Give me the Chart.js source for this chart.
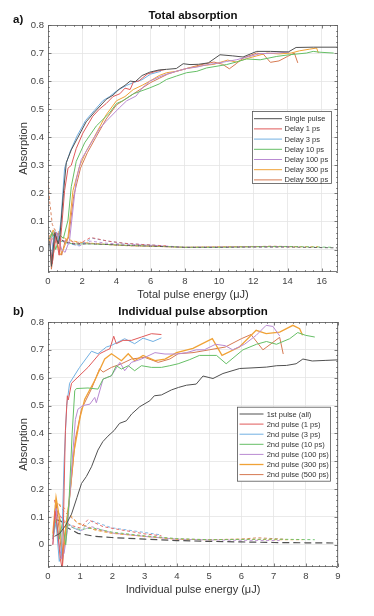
<!DOCTYPE html>
<html><head><meta charset="utf-8">
<script src="https://cdn.jsdelivr.net/npm/chart.js@4/dist/chart.umd.min.js"></script>
<style>
html,body{margin:0;padding:0;background:#fff;width:374px;height:616px;overflow:hidden}
#ca{position:absolute;left:0;top:0}
#cb{position:absolute;left:0;top:300px}
</style></head><body>
<canvas id="ca" width="374" height="300"></canvas>
<canvas id="cb" width="374" height="316"></canvas>
<script>
// ---------- DATA: (a) Total absorption, x = total pulse energy (uJ) ----------
const topLabels = ['Single pulse','Delay 1 ps','Delay 3 ps','Delay 10 ps','Delay 100 ps','Delay 300 ps','Delay 500 ps'];
const topXTicks = [0,2,4,6,8,10,12,14,16];
const topYTicks = [0,0.1,0.2,0.3,0.4,0.5,0.6,0.7,0.8];

const topSingle = [[0.1,0.03],[0.2,-0.06],[0.4,0.06],[0.6,0.02],[0.7,0.05],[0.9,0.2],[1.07,0.31],[1.36,0.355],[1.75,0.4],[2.23,0.455],[2.72,0.49],[3.4,0.535],[3.8,0.55],[4.17,0.572],[4.5,0.585],[4.8,0.6],[5.1,0.598],[5.5,0.62],[5.95,0.632],[6.5,0.64],[6.93,0.642],[7.5,0.645],[7.9,0.662],[8.3,0.659],[8.8,0.66],[9.37,0.665],[10.05,0.694],[10.8,0.69],[11.4,0.686],[12.2,0.706],[13.0,0.706],[14.05,0.704],[14.5,0.72],[15.5,0.721],[16.9,0.721]];
const topSingleDash = [[0.1,0.07],[0.3,0.05],[0.6,0.045],[0.9,0.03],[1.5,0.02],[2.5,0.02],[3.5,0.018],[5,0.014],[6,0.012],[8,0.008],[10,0.008],[12,0.009],[14,0.009],[16.9,0.006]];
const topD1 = [[0.15,0.0],[0.25,-0.05],[0.45,0.05],[0.65,-0.02],[0.8,0.08],[0.97,0.21],[1.17,0.29],[1.36,0.3],[1.65,0.36],[2.04,0.415],[2.62,0.475],[3.0,0.5],[3.4,0.52],[3.8,0.545],[4.2,0.555],[4.5,0.575],[4.8,0.57],[5.0,0.598],[5.3,0.6],[5.8,0.625],[6.3,0.635],[6.9,0.642]];
const topD1Dash = [[0.2,0.03],[0.4,0.065],[0.6,0.04],[0.9,0.03],[1.2,0.025],[1.8,0.02],[2.5,0.043],[3.5,0.03],[4.5,0.022],[5.5,0.018],[6.9,0.013]];
const topD3 = [[0.1,0.02],[0.2,-0.03],[0.35,0.05],[0.6,0.03],[0.75,0.1],[0.97,0.29],[1.3,0.35],[1.7,0.405],[2.2,0.46],[2.7,0.495],[3.2,0.53],[3.6,0.545],[4.0,0.565],[4.6,0.585],[5.0,0.595],[5.5,0.605],[6.0,0.625],[6.6,0.635]];
const topD3Dash = [[0.2,0.04],[0.4,0.07],[0.6,0.05],[0.8,0.03],[1.2,0.02],[1.8,0.015],[2.6,0.04],[3.5,0.03],[4.5,0.022],[5.5,0.018],[6.6,0.014]];
const topD10 = [[0.1,0.04],[0.25,0.06],[0.45,0.0],[0.7,0.05],[0.9,0.04],[1.17,0.105],[1.36,0.224],[1.65,0.314],[2.14,0.38],[2.82,0.44],[3.6,0.487],[4.0,0.52],[4.37,0.53],[5.0,0.555],[5.95,0.576],[6.5,0.59],[6.93,0.606],[7.5,0.618],[8.1,0.63],[8.7,0.635],[9.27,0.647],[10.44,0.659],[11.0,0.668],[11.6,0.679],[12.4,0.676],[13.37,0.688],[14.1,0.694],[15.1,0.7],[15.5,0.706],[15.9,0.703],[16.7,0.7]];
const topD10Dash = [[0.2,0.06],[0.4,0.05],[0.7,0.03],[1.0,0.025],[1.5,0.02],[2.5,0.02],[3.5,0.018],[5,0.014],[6.5,0.012],[8,0.008],[10,0.008],[12,0.01],[14,0.011],[16.7,0.008]];
const topD100 = [[0.15,0.05],[0.3,0.0],[0.5,0.06],[0.8,0.0],[1.0,-0.01],[1.26,0.033],[1.65,0.248],[1.94,0.32],[2.33,0.36],[2.62,0.39],[3.0,0.43],[3.4,0.457],[4.17,0.505],[4.6,0.53],[5.15,0.547],[5.5,0.575],[5.95,0.6],[6.5,0.615],[6.93,0.625],[7.5,0.635],[8.1,0.645],[8.7,0.65],[9.27,0.658],[10.0,0.665],[10.44,0.67],[11.0,0.676],[11.6,0.685],[12.4,0.698],[13.37,0.7],[14.1,0.704]];
const topD100Dash = [[0.3,0.02],[0.5,0.06],[0.8,0.035],[1.2,0.025],[1.8,0.012],[2.5,0.03],[3.5,0.022],[5,0.018],[6.5,0.014],[8,0.008],[10,0.009],[12,0.01],[14.1,0.01]];
const topD300 = [[0.1,0.03],[0.3,0.07],[0.5,0.04],[0.7,-0.02],[0.9,0.0],[1.17,0.045],[1.46,0.21],[1.84,0.296],[2.23,0.35],[2.72,0.403],[3.4,0.48],[4.0,0.53],[4.5,0.545],[4.98,0.57],[5.5,0.585],[5.95,0.6],[6.5,0.62],[6.93,0.63],[7.5,0.635],[8.1,0.645],[9.0,0.655],[9.7,0.66],[10.5,0.675],[11.0,0.668],[11.6,0.68],[12.2,0.69],[12.8,0.7],[13.5,0.697],[14.2,0.7],[14.7,0.708],[15.3,0.714],[15.7,0.718],[15.8,0.7]];
const topD300Dash = [[0.1,0.05],[0.3,0.06],[0.5,0.035],[0.7,0.05],[1.0,0.04],[1.5,0.03],[2.0,0.025],[3.0,0.02],[4,0.016],[5,0.013],[6,0.012],[8,0.008],[10,0.01],[12,0.011],[14,0.01],[15.8,0.01]];
const topD500 = [[0.1,0.05],[0.2,-0.07],[0.4,0.02],[0.6,0.06],[0.8,-0.02],[1.0,0.03],[1.2,0.04],[1.5,0.19],[1.9,0.29],[2.3,0.345],[2.8,0.4],[3.4,0.465],[4.0,0.515],[4.5,0.535],[5.0,0.555],[5.5,0.575],[6.0,0.595],[6.5,0.61],[7.0,0.625],[7.5,0.635],[8.1,0.645],[8.7,0.655],[9.2,0.662],[9.7,0.668],[10.2,0.66],[10.6,0.644],[11.0,0.662],[11.4,0.682],[12.2,0.7],[12.6,0.695],[13.0,0.667],[13.5,0.672],[14.0,0.688],[14.4,0.7],[14.6,0.665]];
const topD500Dash = [[0,0.25],[0.1,0.17],[0.25,0.09],[0.4,0.07],[0.6,0.065],[0.8,0.045],[1.0,0.035],[1.5,0.028],[2.0,0.024],[3.0,0.02],[4.0,0.015],[5.0,0.013],[6.0,0.012],[7.0,0.01],[8.0,0.008],[10.0,0.009],[12.0,0.01],[13.0,0.012],[14.6,0.01]];

// ---------- DATA: (b) Individual pulse absorption, x = individual pulse energy (uJ) ----------
const botLabels = ['1st pulse (all)','2nd pulse (1 ps)','2nd pulse (3 ps)','2nd pulse (10 ps)','2nd pulse (100 ps)','2nd pulse (300 ps)','2nd pulse (500 ps)'];
const botXTicks = [0,1,2,3,4,5,6,7,8,9];
const botYTicks = [0,0.1,0.2,0.3,0.4,0.5,0.6,0.7,0.8];

const botFirst = [[0.2,0.03],[0.36,0.04],[0.55,0.07],[0.73,0.11],[0.9,0.17],[1.04,0.22],[1.19,0.245],[1.35,0.28],[1.55,0.34],[1.7,0.37],[1.86,0.39],[2.05,0.41],[2.22,0.436],[2.43,0.445],[2.6,0.47],[2.85,0.496],[3.16,0.517],[3.3,0.535],[3.52,0.538],[3.83,0.556],[4.05,0.565],[4.3,0.573],[4.6,0.577],[4.81,0.606],[5.12,0.597],[5.43,0.615],[5.95,0.633],[6.3,0.635],[6.78,0.638],[7.1,0.643],[7.4,0.644],[7.7,0.65],[7.91,0.667],[8.2,0.66],[8.6,0.662],[9.0,0.664]];
const botFirstDash = [[0.25,0.09],[0.4,0.085],[0.62,0.06],[0.93,0.041],[1.45,0.03],[1.97,0.026],[3.0,0.02],[4.0,0.015],[5.0,0.012],[6.0,0.01],[7.0,0.008],[8.0,0.007],[9.0,0.006]];
const botP1 = [[0.15,0.0],[0.22,0.12],[0.3,0.05],[0.38,-0.05],[0.45,-0.09],[0.5,0.2],[0.54,0.41],[0.6,0.535],[0.63,0.52],[0.73,0.58],[1.24,0.637],[1.6,0.686],[1.81,0.698],[1.92,0.704],[2.04,0.749],[2.12,0.722],[2.33,0.734],[2.59,0.734],[2.9,0.746],[3.21,0.758],[3.52,0.755]];
const botP1Dash = [[0.2,0.16],[0.3,0.12],[0.45,0.09],[0.7,0.07],[1.0,0.06],[1.24,0.09],[1.71,0.065],[2.18,0.055],[3.0,0.039],[3.52,0.032]];
const botP3 = [[0.15,0.02],[0.25,0.08],[0.35,-0.06],[0.42,-0.03],[0.5,0.3],[0.58,0.5],[0.67,0.58],[0.98,0.637],[1.35,0.695],[1.55,0.686],[1.81,0.71],[1.97,0.716],[2.38,0.74],[2.69,0.722],[2.95,0.742],[3.26,0.73],[3.52,0.743]];
const botP3Dash = [[0.22,0.13],[0.35,0.11],[0.5,0.09],[0.8,0.06],[1.0,0.05],[1.35,0.086],[1.97,0.061],[3.0,0.044],[3.52,0.035]];
const botP10 = [[0.15,0.03],[0.25,0.09],[0.35,0.02],[0.45,0.08],[0.55,0.0],[0.65,0.15],[0.75,0.4],[0.83,0.553],[0.88,0.561],[1.24,0.563],[1.55,0.559],[1.71,0.595],[1.97,0.607],[2.12,0.643],[2.28,0.631],[2.49,0.643],[2.69,0.625],[2.9,0.643],[3.21,0.637],[3.52,0.637],[3.78,0.643],[4.04,0.65],[4.4,0.665],[4.7,0.68],[5.23,0.68],[5.53,0.65],[6.05,0.7],[6.47,0.72],[6.78,0.73],[7.09,0.72],[7.5,0.74],[7.75,0.762],[8.0,0.752],[8.28,0.746]];
const botP10Dash = [[0.2,0.09],[0.3,0.1],[0.5,0.08],[0.8,0.06],[1.0,0.055],[1.4,0.06],[2.0,0.045],[3.0,0.032],[4.0,0.022],[5.0,0.018],[6.0,0.019],[7.0,0.02],[8.28,0.018]];
const botP100 = [[0.15,0.0],[0.25,0.13],[0.32,0.02],[0.42,-0.05],[0.5,-0.03],[0.6,0.05],[0.75,0.3],[0.85,0.45],[0.93,0.487],[1.09,0.5],[1.3,0.505],[1.45,0.529],[1.5,0.51],[1.71,0.595],[1.97,0.607],[2.23,0.655],[2.38,0.625],[2.59,0.655],[2.9,0.667],[3.32,0.69],[3.63,0.685],[3.99,0.685],[4.3,0.69],[4.6,0.7],[4.85,0.7],[5.2,0.72],[5.5,0.715],[5.73,0.7],[6.1,0.72],[6.46,0.752],[6.77,0.788],[6.98,0.784],[7.19,0.75]];
const botP100Dash = [[0.22,0.14],[0.35,0.1],[0.6,0.07],[1.0,0.05],[1.35,0.065],[2.0,0.042],[3.0,0.03],[4.0,0.02],[5.0,0.017],[6.0,0.016],[7.19,0.015]];
const botP300 = [[0.15,0.04],[0.25,0.17],[0.35,0.1],[0.45,-0.04],[0.55,0.06],[0.65,0.15],[0.8,0.33],[1.0,0.46],[1.14,0.523],[1.45,0.59],[1.76,0.667],[1.97,0.686],[2.28,0.661],[2.49,0.686],[2.69,0.661],[2.95,0.68],[3.32,0.661],[3.63,0.667],[3.99,0.69],[4.5,0.705],[5.1,0.74],[5.4,0.68],[5.94,0.71],[6.46,0.77],[6.77,0.758],[7.19,0.764],[7.6,0.788],[7.81,0.776],[7.9,0.752]];
const botP300Dash = [[0.2,0.16],[0.3,0.15],[0.52,0.13],[0.93,0.076],[1.45,0.053],[1.97,0.041],[3.0,0.03],[4.0,0.02],[5.0,0.018],[6.0,0.02],[7.0,0.018],[7.9,0.018]];
const botP500 = [[0.15,0.02],[0.25,0.15],[0.35,0.05],[0.45,-0.07],[0.55,0.05],[0.7,0.2],[0.85,0.38],[1.04,0.487],[1.35,0.56],[1.6,0.632],[1.71,0.62],[1.97,0.637],[2.28,0.65],[2.59,0.667],[3.0,0.673],[3.42,0.655],[3.78,0.667],[4.04,0.686],[4.5,0.69],[5.0,0.7],[5.5,0.71],[6.0,0.74],[6.3,0.755],[6.67,0.7],[7.19,0.745],[7.3,0.685]];
const botP500Dash = [[0.2,0.12],[0.3,0.15],[0.5,0.12],[0.9,0.08],[1.45,0.055],[2.0,0.042],[3.0,0.03],[4.0,0.02],[5.0,0.018],[6.0,0.02],[6.5,0.025],[7.3,0.02]];

// ---------- STYLE ----------
const COLORS = ['#505050','#e05a5a','#72b0e2','#66bf66','#b98ad2','#f0a236','#d67a52'];
const FONT = "'Liberation Sans', Arial, Helvetica, sans-serif";

function buildDatasets(solids, dashes, labels, blackDash, widths){
  const ds = [];
  solids.forEach((d,i)=>{
    ds.push({label:labels[i], data:d, borderColor:COLORS[i], borderWidth:widths[i], pointRadius:0, tension:0, fill:false});
  });
  dashes.forEach((d,i)=>{
    ds.push({label:labels[i]+' dash', data:d, borderColor:COLORS[i], borderWidth:i===0?blackDash.w:0.9, borderDash:i===0?blackDash.dash:[3,2.5], pointRadius:0, tension:0, fill:false});
  });
  return ds;
}

function makePlugin(cfg){
  return {
    id:'frame',
    afterDatasetsDraw(chart){
      const {ctx, chartArea:a, scales} = chart;
      const x = scales.x, y = scales.y;
      ctx.save();
      ctx.strokeStyle = '#5a5a5a'; ctx.lineWidth = 0.8;
      ctx.strokeRect(a.left+0.5, a.top+0.5, a.right-a.left-1, a.bottom-a.top-1);
      ctx.beginPath();
      const nx = Math.round((cfg.xMax)/cfg.xMinor);
      for(let k=0;k<=nx;k++){
        const v = k*cfg.xMinor; if(v>cfg.xMax) break;
        const major = Math.abs(v/cfg.xMajor - Math.round(v/cfg.xMajor))<1e-6;
        const len = major?3.5:1.8;
        const p = Math.round(x.getPixelForValue(v))+0.5;
        ctx.moveTo(p,a.bottom); ctx.lineTo(p,a.bottom-len);
        ctx.moveTo(p,a.top); ctx.lineTo(p,a.top+len);
      }
      for(let k=-4;k<=40;k++){
        const v = k*0.02;
        const major = (k%5===0);
        const len = major?3.5:1.8;
        const p = Math.round(y.getPixelForValue(v))+0.5;
        ctx.moveTo(a.left,p); ctx.lineTo(a.left+len,p);
        ctx.moveTo(a.right,p); ctx.lineTo(a.right-len,p);
      }
      ctx.stroke();
      const L = cfg.legend;
      ctx.fillStyle = '#fff';
      ctx.fillRect(L.x0, L.y0, L.x1-L.x0, L.y1-L.y0);
      ctx.strokeStyle = '#555'; ctx.lineWidth = 0.8;
      ctx.strokeRect(L.x0+0.5, L.y0+0.5, L.x1-L.x0-1, L.y1-L.y0-1);
      ctx.font = '7.5px '+FONT; ctx.textBaseline='middle'; ctx.textAlign='left';
      cfg.labels.forEach((t,i)=>{
        const yy = L.first + i*L.step;
        ctx.strokeStyle = COLORS[i]; ctx.lineWidth = cfg.widths[i];
        ctx.beginPath(); ctx.moveTo(L.s0, yy); ctx.lineTo(L.s1, yy); ctx.stroke();
        ctx.fillStyle = '#333';
        ctx.fillText(t, L.tx, yy+0.5);
      });
      ctx.fillStyle = '#111';
      ctx.font = 'bold 11.5px '+FONT; ctx.textAlign='center'; ctx.textBaseline='middle';
      ctx.fillText(cfg.title, (a.left+a.right)/2, cfg.titleY);
      ctx.font = 'bold 11.5px '+FONT; ctx.textAlign='left';
      ctx.fillText(cfg.tag, 13, cfg.tagY);
      ctx.fillStyle = '#333';
      ctx.font = '11px '+FONT; ctx.textAlign='center';
      ctx.fillText(cfg.xTitle, (a.left+a.right)/2, cfg.xTitleY);
      ctx.save();
      ctx.translate(24, (a.top+a.bottom)/2);
      ctx.rotate(-Math.PI/2);
      ctx.fillText('Absorption', 0, 0);
      ctx.restore();
      ctx.restore();
    }
  };
}

function makeChart(id, datasets, xMax, xTicks, yTicks, pad, xH, plugin){
  return new Chart(document.getElementById(id), {
    type:'line',
    data:{datasets},
    options:{
      responsive:false, animation:false, devicePixelRatio:1,
      layout:{padding:pad},
      plugins:{legend:{display:false}, title:{display:false}, tooltip:{enabled:false}},
      scales:{
        x:{type:'linear', min:0, max:xMax,
           afterBuildTicks:s=>{s.ticks = xTicks.map(v=>({value:v}));},
           afterFit:s=>{s.height = xH;},
           grid:{color:'#e4e4e4', lineWidth:0.8, drawTicks:false},
           border:{display:false},
           ticks:{padding:4, color:'#444', font:{family:FONT, size:9.5}, maxRotation:0, autoSkip:false, callback:v=>String(v)}},
        y:{type:'linear', min:-0.08, max:0.8,
           afterBuildTicks:s=>{s.ticks = yTicks.map(v=>({value:v}));},
           afterFit:s=>{s.width = 48;},
           grid:{color:'#e4e4e4', lineWidth:0.8, drawTicks:false},
           border:{display:false},
           ticks:{padding:4, color:'#444', font:{family:FONT, size:9.5}, autoSkip:false, callback:v=>String(Math.round(v*10)/10)}}
      }
    },
    plugins:[plugin]
  });
}

const topWidths = [1,1,1,1,1,1,1];
const botWidths = [1,1,1,1,1,1.3,1];

makeChart('ca',
  buildDatasets([topSingle,topD1,topD3,topD10,topD100,topD300,topD500],
                [topSingleDash,topD1Dash,topD3Dash,topD10Dash,topD100Dash,topD300Dash,topD500Dash],
                topLabels, {w:0.9, dash:[3,2.5]}, topWidths),
  16.95, topXTicks, topYTicks, {top:25, right:36, left:0, bottom:0}, 28,
  makePlugin({xMax:16.95, xMinor:0.5, xMajor:2, labels:topLabels, widths:topWidths,
    legend:{x0:252, y0:111, x1:332, y1:184, first:118.7, step:10.2, s0:254, s1:282, tx:284.5},
    title:'Total absorption', titleY:16, tag:'a)', tagY:20,
    xTitle:'Total pulse energy (\u03BCJ)', xTitleY:295}));

makeChart('cb',
  buildDatasets([botFirst,botP1,botP3,botP10,botP100,botP300,botP500],
                [botFirstDash,botP1Dash,botP3Dash,botP10Dash,botP100Dash,botP300Dash,botP500Dash],
                botLabels, {w:1.2, dash:[7,4]}, botWidths),
  9, botXTicks, botYTicks, {top:22, right:36, left:0, bottom:0}, 49,
  makePlugin({xMax:9, xMinor:0.2, xMajor:1, labels:botLabels, widths:botWidths,
    legend:{x0:237, y0:106.7, x1:331, y1:181.7, first:114, step:10.1, s0:239.5, s1:263.5, tx:266.7},
    title:'Individual pulse absorption', titleY:12.3, tag:'b)', tagY:12.3,
    xTitle:'Individual pulse energy (\u03BCJ)', xTitleY:290}));
</script>
</body></html>
